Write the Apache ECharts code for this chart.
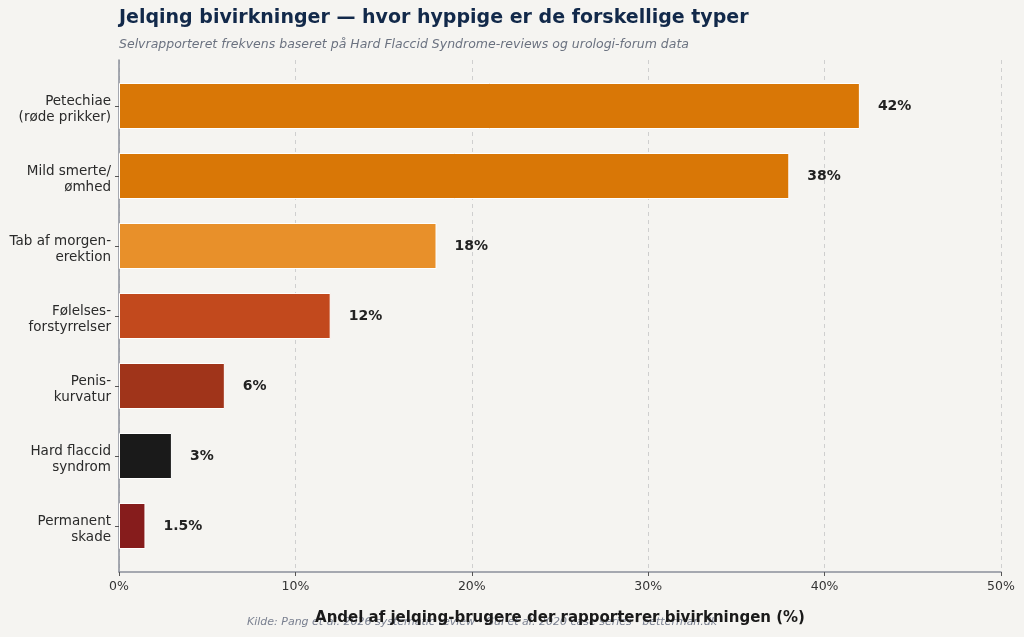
<!DOCTYPE html>
<html>
<head>
<meta charset="utf-8">
<script src="https://cdn.jsdelivr.net/npm/echarts@6/dist/echarts.min.js"></script>
<style>
  html, body { margin: 0; padding: 0; background: #f5f4f1; }
  #chart { width: 1024px; height: 637px; }
</style>
</head>
<body>
<div id="chart"></div>
<script>
// kategorier (top til bund)
var categories = [
  'Petechiae\n(røde prikker)',
  'Mild smerte/\nømhed',
  'Tab af morgen-\nerektion',
  'Følelses-\nforstyrrelser',
  'Penis-\nkurvatur',
  'Hard flaccid\nsyndrom',
  'Permanent\nskade'
];
// andel i procent
var values = [42, 38, 18, 12, 6, 3, 1.5];
var barColors = ['#d97706', '#d97706', '#e8902a', '#c2491d', '#a0341a', '#1a1a1a', '#861c1c'];
var xTicks = [0, 10, 20, 30, 40, 50];

var chart = echarts.init(document.getElementById('chart'), null, { renderer: 'canvas' });
var font = 'DejaVu Sans';

var option = {
  backgroundColor: '#f5f4f1',
  animation: false,
  textStyle: { fontFamily: font },
  graphic: [
    { type: 'text', left: 119, top: 9,
      style: { text: 'Jelqing bivirkninger — hvor hyppige er de forskellige typer',
        font: 'bold 19px "DejaVu Sans"', fill: '#12294a' } },
    { type: 'text', left: 119, top: 38,
      style: { text: 'Selvrapporteret frekvens baseret på Hard Flaccid Syndrome-reviews og urologi-forum data',
        font: 'italic 12.5px "DejaVu Sans"', fill: '#6b7280' } },
    { type: 'text', left: 247, top: 617, z: 0,
      style: { text: 'Kilde: Pang et al. 2026 systematic review · Gul et al. 2020 case series · betterman.dk',
        font: 'italic 11px "DejaVu Sans"', fill: '#7a8090' } }
  ],
  grid: [
    { left: 119, right: 23, top: 60, bottom: 65 },
    { left: 119, right: 23, top: 71, bottom: 76 },
    { left: 119, right: 23, top: 74, bottom: 73 }   // kun etiketter, lidt lavere
  ],
  xAxis: [
    {
      gridIndex: 0, type: 'value', min: xTicks[0], max: xTicks[xTicks.length - 1], interval: 10,
      name: 'Andel af jelqing-brugere der rapporterer bivirkningen (%)',
      nameLocation: 'middle', nameGap: 39,
      nameTextStyle: { fontFamily: font, fontSize: 15, fontWeight: 'bold', color: '#1a1a1a' },
      axisLine: { show: true, lineStyle: { color: '#8a8f9a', width: 1.5 } },
      axisTick: { show: true, length: 4, lineStyle: { color: '#555' } },
      axisLabel: { formatter: '{value}%', fontSize: 12.5, color: '#333', margin: 8 },
      splitLine: { show: true, lineStyle: { type: [4, 4], color: '#cfcfcf', width: 1 } }
    },
    { gridIndex: 1, type: 'value', min: 0, max: 50, show: false },
    { gridIndex: 2, type: 'value', min: 0, max: 50, show: false }
  ],
  yAxis: [
    {
      gridIndex: 0, type: 'value', min: 0, max: 1,
      axisLine: { show: true, lineStyle: { color: '#8a8f9a', width: 1.5 } },
      axisTick: { show: false }, axisLabel: { show: false }, splitLine: { show: false }
    },
    {
      gridIndex: 1, type: 'category', data: categories, inverse: true,
      axisLine: { show: false },
      axisTick: { show: true, alignWithLabel: true, length: 4, lineStyle: { color: '#555' } },
      axisLabel: { show: false }
    },
    {
      gridIndex: 2, type: 'category', data: categories, inverse: true,
      axisLine: { show: false }, axisTick: { show: false },
      axisLabel: { fontSize: 13.5, color: '#2a2a2a', lineHeight: 16, margin: 8, align: 'right' }
    }
  ],
  series: [{
    type: 'bar',
    xAxisIndex: 1, yAxisIndex: 1,
    barWidth: 46,
    z: 3,
    data: values.map(function (v, i) {
      return { value: v, itemStyle: { color: barColors[i] } };
    }),
    itemStyle: { borderColor: '#ffffff', borderWidth: 1 },
    label: {
      show: true, position: 'right', distance: 18,
      formatter: function (p) { return p.value + '%'; },
      fontFamily: font, fontSize: 14, fontWeight: 'bold', color: '#222'
    }
  }]
};

chart.setOption(option);
</script>
</body>
</html>
